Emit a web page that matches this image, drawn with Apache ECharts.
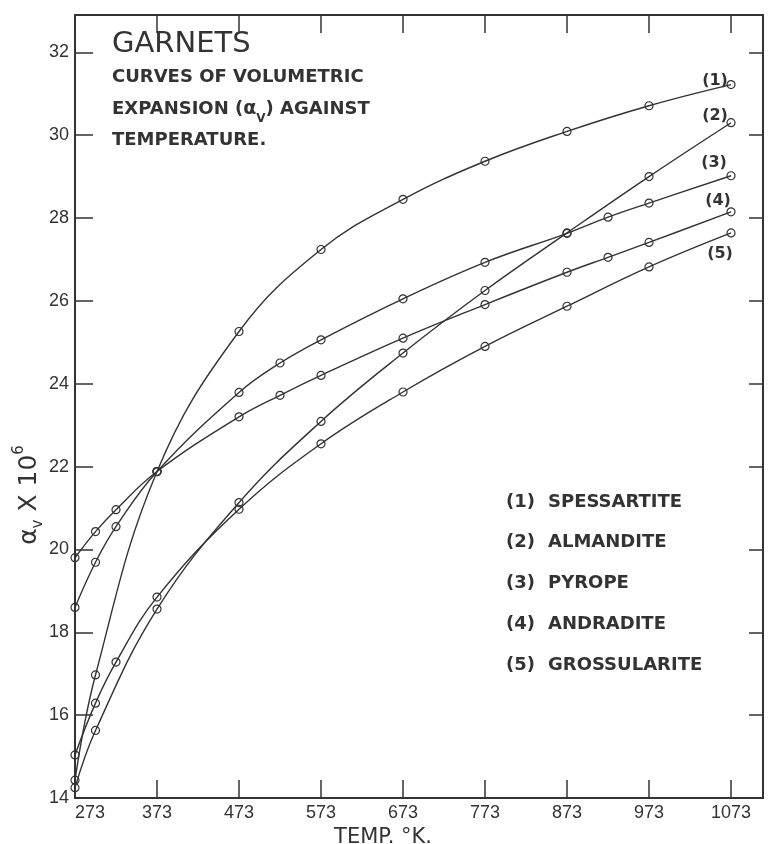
<!DOCTYPE html>
<html><head><meta charset="utf-8">
<script src="https://cdn.jsdelivr.net/npm/echarts@6/dist/echarts.min.js"></script>
<style>html,body{margin:0;padding:0;background:#fff}#c{width:770px;height:844px}</style>
</head><body><div id="c"></div>
<script>
// ---- data ----
const xTicks = [273, 373, 473, 573, 673, 773, 873, 973, 1073];
const yTicks = [14, 16, 18, 20, 22, 24, 26, 28, 30, 32];
const seriesNames = ['SPESSARTITE', 'ALMANDITE', 'PYROPE', 'ANDRADITE', 'GROSSULARITE'];
const seriesTags = ['(1)', '(2)', '(3)', '(4)', '(5)'];

const tSpessartite = [273, 298, 373, 473, 573, 673, 773, 873, 973, 1073];
const vSpessartite = [14.43, 16.97, 21.88, 25.26, 27.24, 28.45, 29.37, 30.09, 30.71, 31.22];

const tAlmandite = [273, 298, 373, 473, 573, 673, 773, 873, 973, 1073];
const vAlmandite = [14.25, 15.63, 18.56, 21.13, 23.09, 24.74, 26.25, 27.64, 29.0, 30.3];

const tPyrope = [273, 298, 323, 373, 473, 523, 573, 673, 773, 873, 923, 973, 1073];
const vPyrope = [18.6, 19.69, 20.55, 21.88, 23.79, 24.5, 25.06, 26.05, 26.93, 27.63, 28.02, 28.36, 29.02];

const tAndradite = [273, 298, 323, 373, 473, 523, 573, 673, 773, 873, 923, 973, 1073];
const vAndradite = [19.8, 20.43, 20.96, 21.88, 23.2, 23.72, 24.2, 25.1, 25.91, 26.69, 27.05, 27.41, 28.15];

const tGrossularite = [273, 298, 323, 373, 473, 573, 673, 773, 873, 973, 1073];
const vGrossularite = [15.04, 16.29, 17.28, 18.85, 20.97, 22.55, 23.8, 24.9, 25.87, 26.82, 27.64];

// ---- styling ----
const INK = '#333';
const tagOffsets = [[-16, -4], [-16, -7], [-17, -13], [-13, -11], [-11, 21]];
const temps = [tSpessartite, tAlmandite, tPyrope, tAndradite, tGrossularite];
const vals = [vSpessartite, vAlmandite, vPyrope, vAndradite, vGrossularite];

const chart = echarts.init(document.getElementById('c'), null, {renderer: 'canvas'});

const series = seriesNames.map((name, i) => ({
  name: name,
  type: 'line',
  smooth: 0.4,
  symbol: 'circle',
  symbolSize: 8,
  lineStyle: {color: INK, width: 1.4},
  itemStyle: {color: 'rgba(255,255,255,0)', borderColor: INK, borderWidth: 1.2},
  emphasis: {disabled: true},
  data: temps[i].map((t, j) => {
    const d = {value: [t, vals[i][j]]};
    if (j === temps[i].length - 1) {
      d.label = {
        show: true, formatter: seriesTags[i], position: 'inside', offset: tagOffsets[i],
        fontFamily: 'DejaVu Sans', fontWeight: 'bold', fontSize: 16, color: INK
      };
    }
    return d;
  })
}));

const axisLineStyle = {lineStyle: {color: INK, width: 2}, onZero: false};
const plainNum = v => String(v);

const option = {
  backgroundColor: '#fff',
  animation: false,
  textStyle: {fontFamily: 'DejaVu Sans'},
  title: {
    left: 112, top: 29, padding: 0, itemGap: 2,
    text: 'GARNETS',
    textStyle: {fontFamily: 'DejaVu Sans', fontSize: 29, fontWeight: 'normal', color: INK, lineHeight: 31},
    subtext: 'CURVES OF VOLUMETRIC\nEXPANSION ({a|α}{s|V}) AGAINST\nTEMPERATURE.',
    subtextStyle: {
      fontFamily: 'DejaVu Sans', fontWeight: 'bold', fontSize: 18, color: INK, lineHeight: 31.5,
      rich: {
        a: {fontFamily: 'DejaVu Sans', fontWeight: 'bold', fontSize: 19, color: INK},
        s: {fontFamily: 'DejaVu Sans', fontWeight: 'bold', fontSize: 12, color: INK, lineHeight: 20, verticalAlign: 'bottom'}
      }
    }
  },
  legend: {
    show: true, orient: 'vertical', left: 500, top: 491, padding: 0,
    icon: 'none', itemWidth: 1, itemHeight: 22, itemGap: 18.8, selectedMode: false,
    data: seriesNames,
    formatter: name => '{n|' + seriesTags[seriesNames.indexOf(name)] + '}{t|' + name + '}',
    textStyle: {
      lineHeight: 22,
      rich: {
        n: {width: 42, fontFamily: 'DejaVu Sans', fontWeight: 'bold', fontSize: 18, lineHeight: 22, color: INK},
        t: {fontFamily: 'DejaVu Sans', fontWeight: 'bold', fontSize: 18, lineHeight: 22, color: INK}
      }
    }
  },
  grid: {left: 75, right: 7, top: 15, bottom: 46, containLabel: false, outerBoundsMode: 'none'},
  xAxis: [
    {
      type: 'value', min: 273, max: 1112, position: 'bottom',
      name: 'TEMP. °K.', nameLocation: 'middle', nameGap: 18,
      nameTextStyle: {fontFamily: 'DejaVu Sans', fontSize: 21, color: INK, padding: [0, 72, 0, 0]},
      axisLine: axisLineStyle,
      axisTick: {inside: true, length: 18, customValues: xTicks, lineStyle: {color: INK, width: 1.5}},
      axisLabel: {customValues: xTicks, formatter: plainNum, fontFamily: 'Liberation Sans', fontSize: 18, color: INK, margin: 6, alignMinLabel: 'left'},
      splitLine: {show: false}
    },
    {
      type: 'value', min: 273, max: 1112, position: 'top',
      axisLine: axisLineStyle,
      axisTick: {inside: true, length: 18, customValues: xTicks, lineStyle: {color: INK, width: 1.5}},
      axisLabel: {show: false},
      splitLine: {show: false}
    }
  ],
  yAxis: [
    {
      type: 'value', min: 14, max: 32.9, position: 'left',
      axisLine: axisLineStyle,
      axisTick: {inside: true, length: 18, customValues: yTicks, lineStyle: {color: INK, width: 1.5}},
      axisLabel: {customValues: yTicks, formatter: plainNum, fontFamily: 'Liberation Sans', fontSize: 18, color: INK, margin: 6},
      splitLine: {show: false}
    },
    {
      type: 'value', min: 14, max: 32.9, position: 'right',
      axisLine: axisLineStyle,
      axisTick: {inside: true, length: 14, customValues: yTicks, lineStyle: {color: INK, width: 1.5}},
      axisLabel: {show: false},
      splitLine: {show: false}
    }
  ],
  graphic: [{
    type: 'text', x: 29, y: 495, rotation: Math.PI / 2,
    style: {
      text: '{m|α}{s|v}{m| X 10}{p|6}',
      align: 'center', verticalAlign: 'middle', fill: INK,
      rich: {
        m: {fontFamily: 'DejaVu Sans', fontSize: 25, fill: INK, color: INK, lineHeight: 34},
        s: {fontFamily: 'DejaVu Sans', fontSize: 15, fill: INK, color: INK, lineHeight: 22, verticalAlign: 'bottom'},
        p: {fontFamily: 'DejaVu Sans', fontSize: 15, fill: INK, color: INK, lineHeight: 22, verticalAlign: 'top'}
      }
    }
  }],
  series: series
};
chart.setOption(option);
</script>
</body></html>
